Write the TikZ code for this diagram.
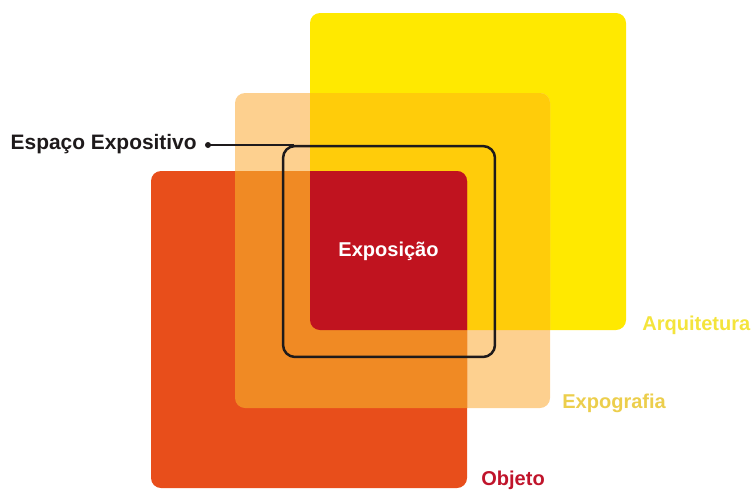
\documentclass[tikz,border=0pt]{standalone}
\usepackage{fontspec}
\setmainfont{Liberation Sans}
\usetikzlibrary{positioning}
\definecolor{arqyellow}{RGB}{255,233,0}
\definecolor{expopeach}{RGB}{253,208,143}
\definecolor{expoamber}{RGB}{255,204,10}
\definecolor{objorange}{RGB}{232,78,27}
\definecolor{objexpo}{RGB}{240,138,36}
\definecolor{expored}{RGB}{192,19,31}
\definecolor{framegray}{RGB}{30,26,27}
\definecolor{arqlabel}{RGB}{244,228,60}
\definecolor{expolabel}{RGB}{236,206,76}
\definecolor{objlabel}{RGB}{192,20,43}
\tikzset{%
  square/.style={rounded corners=0.2cm},% the three coloured squares
  tag/.style={font=\fontsize{11.4}{13}\selectfont\bfseries, inner sep=0pt},% labels
  frame/.style={draw=framegray, line width=0.05cm, rounded corners=0.24cm,
    minimum width=4.24cm, minimum height=4.22cm, inner sep=0pt}% espaco expositivo
}
\begin{document}
\begin{tikzpicture}[x=0.02cm, y=-0.02cm]
\useasboundingbox (0,0) rectangle (753,490);

% corners of the squares (pixels, y downwards)
\coordinate (arq nw) at (310,13);
\coordinate (arq se) at (626,330);
\coordinate (expo nw) at (235,93);
\coordinate (expo se) at (550,408);
\coordinate (obj nw) at (151,171);
\coordinate (obj se) at (467,488);

\fill[square, arqyellow] (arq nw) rectangle (arq se);
\fill[square, expopeach] (expo nw) rectangle (expo se);
\begin{scope}
  \clip[square] (arq nw) rectangle (arq se);
  \fill[square, expoamber] (expo nw) rectangle (expo se);
\end{scope}
\fill[square, objorange] (obj nw) rectangle (obj se);
\begin{scope}
  \clip[square] (expo nw) rectangle (expo se);
  \fill[square, objexpo] (obj nw) rectangle (obj se);
  \clip[square] (arq nw) rectangle (arq se);
  \fill[square, expored] (obj nw) rectangle (obj se);
\end{scope}

\node[tag, white] (exposicao) at (388.5,251) {Exposição};

\node[frame] (espaco) at (389,251.5) {};
\node[circle, fill=framegray, inner sep=0pt, minimum size=0.12cm] (dot) at (208,145) {};
\draw[framegray, line width=0.05cm] (dot.center) -- ([xshift=0.24cm] dot -| espaco.west);
\node[tag, framegray, anchor=base east, font=\fontsize{11.9}{14}\selectfont\bfseries]
  (espaco label) at (197,149.5) {Espaço Expositivo};

\node[tag, arqlabel, anchor=base west] (arq label) at (642,330) {Arquitetura};
\node[tag, expolabel, anchor=base west] (expo label) at (562,408) {Expografia};
\node[tag, objlabel, anchor=base west] (obj label) at (481,485) {Objeto};

\end{tikzpicture}
\end{document}
